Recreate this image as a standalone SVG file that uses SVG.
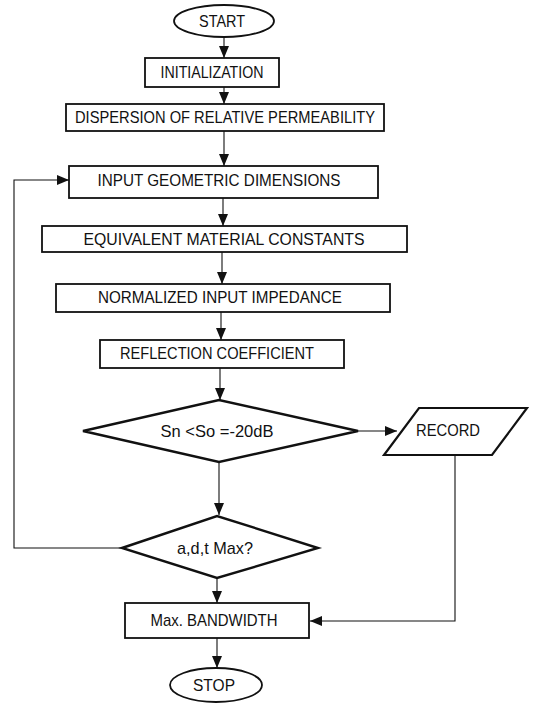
<svg xmlns="http://www.w3.org/2000/svg" width="536" height="707" viewBox="0 0 536 707">
<defs>
<style>
.box{fill:#fff;stroke:#111;stroke-width:1.8}
.dia{fill:#fff;stroke:#111;stroke-width:2.4;stroke-linejoin:miter}
.ln{fill:none;stroke:#111;stroke-width:1.1}
text{font-family:"Liberation Sans",Arial,Helvetica,sans-serif;font-size:17px;fill:#111;text-anchor:middle;dominant-baseline:central}
</style>
<marker id="ah" viewBox="0 0 12 10" refX="12" refY="5" markerWidth="12" markerHeight="10" markerUnits="userSpaceOnUse" orient="auto">
<path d="M0,0 L12,5 L0,10 Z" fill="#111"/>
</marker>
</defs>
<rect width="536" height="707" fill="#fff"/>
<g id="connectors">
<line class="ln" x1="224" y1="38" x2="224" y2="58" marker-end="url(#ah)"/>
<line class="ln" x1="224" y1="87" x2="224" y2="104" marker-end="url(#ah)"/>
<line class="ln" x1="224" y1="131" x2="224" y2="166" marker-end="url(#ah)"/>
<line class="ln" x1="223" y1="198" x2="223" y2="226" marker-end="url(#ah)"/>
<line class="ln" x1="222" y1="252" x2="222" y2="284" marker-end="url(#ah)"/>
<line class="ln" x1="221" y1="312" x2="221" y2="340" marker-end="url(#ah)"/>
<line class="ln" x1="220" y1="368" x2="220" y2="400" marker-end="url(#ah)"/>
<line class="ln" x1="219" y1="462" x2="219" y2="515" marker-end="url(#ah)"/>
<line class="ln" x1="217" y1="578" x2="217" y2="603" marker-end="url(#ah)"/>
<line class="ln" x1="217" y1="638" x2="217" y2="668" marker-end="url(#ah)"/>
<line class="ln" x1="358" y1="431" x2="397" y2="431" marker-end="url(#ah)"/>
<polyline class="ln" points="122,548 14,548 14,180 69,180" marker-end="url(#ah)"/>
<polyline class="ln" points="455,455 455,621 310,621" marker-end="url(#ah)"/>
</g>
<g id="start">
<ellipse class="box" cx="224" cy="21" rx="50" ry="16"/>
<text x="222" y="21" textLength="46" lengthAdjust="spacingAndGlyphs">START</text>
</g>
<g id="init">
<rect class="box" x="145" y="58" width="134" height="29"/>
<text x="212" y="72" textLength="103" lengthAdjust="spacingAndGlyphs">INITIALIZATION</text>
</g>
<g id="dispersion">
<rect class="box" x="66" y="104" width="318" height="27"/>
<text x="225" y="117" textLength="300" lengthAdjust="spacingAndGlyphs">DISPERSION OF RELATIVE PERMEABILITY</text>
</g>
<g id="input">
<rect class="box" x="69" y="166" width="309" height="32"/>
<text x="219" y="180" textLength="243" lengthAdjust="spacingAndGlyphs">INPUT GEOMETRIC DIMENSIONS</text>
</g>
<g id="equivalent">
<rect class="box" x="42" y="226" width="365" height="26"/>
<text x="224" y="239" textLength="281" lengthAdjust="spacingAndGlyphs">EQUIVALENT MATERIAL CONSTANTS</text>
</g>
<g id="normalized">
<rect class="box" x="56" y="284" width="334" height="28"/>
<text x="220" y="297" textLength="244" lengthAdjust="spacingAndGlyphs">NORMALIZED INPUT IMPEDANCE</text>
</g>
<g id="reflection">
<rect class="box" x="100" y="340" width="244" height="28"/>
<text x="217" y="353" textLength="194" lengthAdjust="spacingAndGlyphs">REFLECTION COEFFICIENT</text>
</g>
<g id="decision1">
<polygon class="dia" points="83,431 219,400 358,431 219,462"/>
<text x="217" y="431" textLength="113" lengthAdjust="spacingAndGlyphs">Sn &lt;So =-20dB</text>
</g>
<g id="record">
<polygon class="box" points="419,408 527,408 492,455 384,455" style="stroke-width:2.2"/>
<text x="448" y="430" textLength="64" lengthAdjust="spacingAndGlyphs">RECORD</text>
</g>
<g id="decision2">
<polygon class="dia" points="122,548 217,516 318,548 217,578"/>
<text x="215" y="548" textLength="76" lengthAdjust="spacingAndGlyphs">a,d,t Max?</text>
</g>
<g id="bandwidth">
<rect class="box" x="125" y="603" width="184" height="35"/>
<text x="214" y="620" textLength="127" lengthAdjust="spacingAndGlyphs">Max. BANDWIDTH</text>
</g>
<g id="stop">
<ellipse class="box" cx="216" cy="685" rx="46" ry="17"/>
<text x="214" y="685" textLength="42" lengthAdjust="spacingAndGlyphs">STOP</text>
</g>
</svg>
